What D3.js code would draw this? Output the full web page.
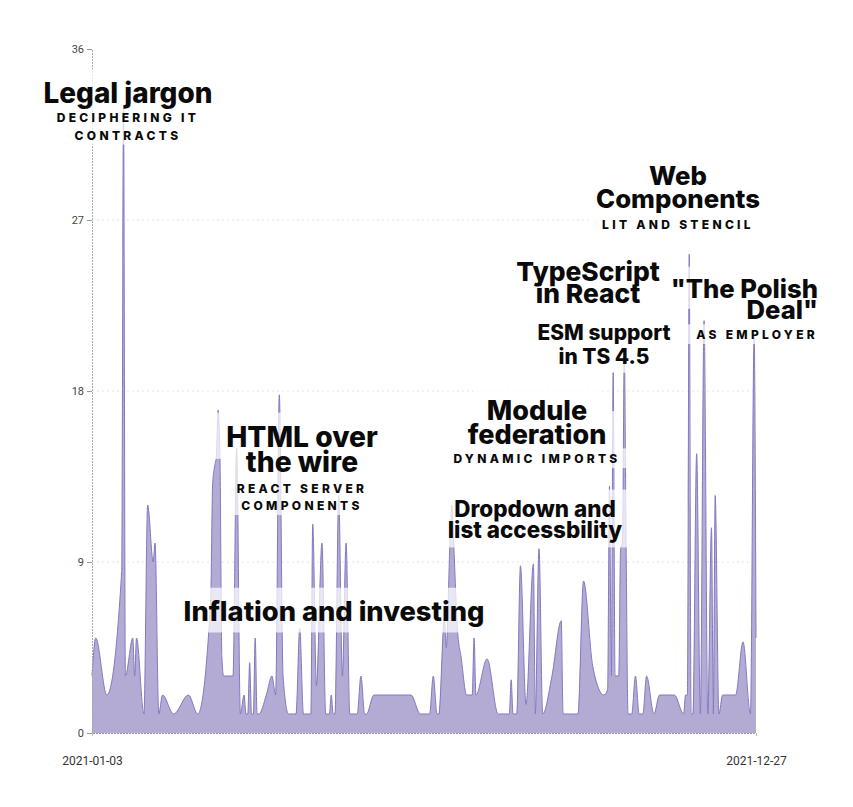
<!DOCTYPE html>
<html>
<head>
<meta charset="utf-8">
<script src="https://cdn.jsdelivr.net/npm/d3@7"></script>
<style>
  html, body { margin: 0; padding: 0; background: #fff; }
  svg { display: block; }
</style>
</head>
<body>
<svg id="chart" width="853" height="807"></svg>
<script>
// ---- data ----
const dates = [
  "2021-01-03","2021-01-05","2021-01-11","2021-01-19","2021-01-20","2021-01-21","2021-01-25","2021-01-26","2021-01-27","2021-01-31",
  "2021-02-02","2021-02-05","2021-02-06","2021-02-08","2021-02-10","2021-02-16","2021-02-24","2021-03-01","2021-03-08","2021-03-09",
  "2021-03-10","2021-03-11","2021-03-12","2021-03-13","2021-03-14","2021-03-15","2021-03-20","2021-03-22","2021-03-24","2021-03-26",
  "2021-03-27","2021-03-28","2021-03-29","2021-03-30","2021-03-31","2021-04-01","2021-04-02","2021-04-03","2021-04-07","2021-04-10",
  "2021-04-12","2021-04-14","2021-04-16","2021-04-19","2021-04-23","2021-04-25","2021-04-27","2021-05-01","2021-05-02","2021-05-04",
  "2021-05-07","2021-05-09","2021-05-11","2021-05-12","2021-05-13","2021-05-14","2021-05-16","2021-05-18","2021-05-20","2021-05-22",
  "2021-05-26","2021-05-28","2021-05-30","2021-05-31","2021-06-04","2021-06-24","2021-06-29","2021-07-04","2021-07-06","2021-07-08",
  "2021-07-09","2021-07-12","2021-07-13","2021-07-15","2021-07-16","2021-07-17","2021-07-19","2021-07-21","2021-07-24","2021-07-27",
  "2021-07-28","2021-07-29","2021-08-04","2021-08-10","2021-08-16","2021-08-17","2021-08-18","2021-08-20","2021-08-22","2021-08-25",
  "2021-08-29","2021-08-30","2021-09-01","2021-09-03","2021-09-08","2021-09-13","2021-09-14","2021-09-22","2021-09-25","2021-09-30",
  "2021-10-06","2021-10-08","2021-10-09","2021-10-10","2021-10-11","2021-10-12","2021-10-14","2021-10-15","2021-10-16","2021-10-17",
  "2021-10-18","2021-10-19","2021-10-21","2021-10-23","2021-10-25","2021-10-27","2021-10-29","2021-11-02","2021-11-05","2021-11-13",
  "2021-11-18","2021-11-19","2021-11-20","2021-11-21","2021-11-22","2021-11-23","2021-11-25","2021-11-27","2021-11-29","2021-12-01",
  "2021-12-03","2021-12-04","2021-12-05","2021-12-07","2021-12-09","2021-12-16","2021-12-20","2021-12-24","2021-12-26","2021-12-27"
];
const counts = [
  3,5,2,8.5,33,3,5,3,5,1,
  12,9,10,1,2,1,2,1,7,13,
  14,14.5,17,14.5,4,3,3,15,1,2,
  1,1,3.7,1,1,5,1,1,2,3,
  2,17.8,3,1,1,5.5,1,1,11,2.5,
  10,1,1,2,1,1,12.5,3,10,1,
  1,3,1,1,2,2,1,1,3,1,
  1,6,4.5,10,12,10,5.5,4,2,2,
  5,2,3.9,1,1,2.8,1,1,8.8,1.5,
  8.9,1,9.7,1,3,5.9,1,1,8,3.5,
  2,2.3,13,3,19,3,3,9.7,10,20,
  9.5,1,1,3,1,1,3,1,2,2,
  1,2,2,25.2,1,1,14.7,1,21.7,1,
  10.8,1,12.5,1,2,2,4.8,1,20.9,5
];
const yTicks = [0, 9, 18, 27, 36];
const xTickLabels = ["2021-01-03", "2021-12-27"];

// annotation texts; w = width the line takes in the reference, y = baseline
const annotations = [
  { x: 128, anchor: "middle", lines: [
    { t: "Legal jargon", k: "title", y: 103, w: 169 },
    { t: "DECIPHERING IT", k: "sub", y: 121.5 },
    { t: "CONTRACTS", k: "sub", y: 139.5 } ] },
  { x: 302, anchor: "middle", lines: [
    { t: "HTML over", k: "title", y: 447, w: 154 },
    { t: "the wire", k: "title", y: 472, w: 110 },
    { t: "REACT SERVER", k: "sub", y: 492.5 },
    { t: "COMPONENTS", k: "sub", y: 510 } ] },
  { x: 334, anchor: "middle", lines: [
    { t: "Inflation and investing", k: "title", y: 621, w: 301 } ] },
  { x: 537, anchor: "middle", lines: [
    { t: "Module", k: "title", y: 420, w: 101 },
    { t: "federation", k: "title", y: 444, w: 138 },
    { t: "DYNAMIC IMPORTS", k: "sub", y: 463 } ] },
  { x: 535, anchor: "middle", lines: [
    { t: "Dropdown and", k: "small", y: 517, w: 161 },
    { t: "list accessbility", k: "small", y: 538, w: 175 } ] },
  { x: 588, anchor: "middle", lines: [
    { t: "TypeScript", k: "title", y: 281, w: 145 },
    { t: "in React", k: "title", y: 303, w: 103 } ] },
  { x: 604, anchor: "middle", lines: [
    { t: "ESM support", k: "small", y: 340, w: 135 },
    { t: "in TS 4.5", k: "small", y: 364, w: 89 } ] },
  { x: 678, anchor: "middle", lines: [
    { t: "Web", k: "title", y: 185, w: 58 },
    { t: "Components", k: "title", y: 208, w: 164 },
    { t: "LIT AND STENCIL", k: "sub", y: 229 } ] },
  { x: 818, anchor: "end", lines: [
    { t: "\"The Polish", k: "title", y: 298, w: 135 },
    { t: "Deal\"", k: "title", y: 319, w: 84 },
    { t: "AS EMPLOYER", k: "sub", y: 339 } ] }
];

// ---- layout ----
const svg = d3.select("#chart");
const margin = { left: 92, right: 97, top: 49, bottom: 74 };
const W = 853, H = 807;
const parse = d3.utcParse("%Y-%m-%d");
const data = dates.map((d, i) => ({ date: parse(d), value: counts[i] }));

const x = d3.scaleUtc()
  .domain([parse(xTickLabels[0]), parse(xTickLabels[1])])
  .range([margin.left, W - margin.right]);
const y = d3.scaleLinear()
  .domain([0, 36])
  .range([H - margin.bottom, margin.top]);

// gridlines
svg.append("g")
  .selectAll("line")
  .data(yTicks.filter(t => t > 0 && t < 36))
  .join("line")
  .attr("x1", margin.left).attr("x2", W - margin.right)
  .attr("y1", d => y(d)).attr("y2", d => y(d))
  .attr("stroke", "#e4e4e4").attr("stroke-dasharray", "2,3");

// area
const area = d3.area()
  .x(d => x(d.date)).y0(y(0)).y1(d => y(d.value))
  .curve(d3.curveMonotoneX);
const line = d3.line()
  .x(d => x(d.date)).y(d => y(d.value))
  .curve(d3.curveMonotoneX);
svg.append("path").datum(data)
  .attr("d", area).attr("fill", "#b3abd4");
svg.append("path").datum(data)
  .attr("d", line).attr("fill", "none")
  .attr("stroke", "#8479c0").attr("stroke-width", 1);

// y axis
const yAxis = svg.append("g")
  .attr("transform", `translate(${margin.left},0)`)
  .call(d3.axisLeft(y).tickValues(yTicks).tickSize(5).tickPadding(3));
yAxis.select(".domain").attr("stroke", "#aaa").attr("stroke-dasharray", "2,1");
yAxis.selectAll(".tick line").attr("stroke", "#999");
yAxis.selectAll(".tick text").attr("fill", "#444")
  .style("font-family", "Roboto, 'Liberation Sans', sans-serif").style("font-size", "11px");

// x axis
const xAxis = svg.append("g")
  .attr("transform", `translate(0,${y(0)})`)
  .call(d3.axisBottom(x).tickValues(xTickLabels.map(parse)).tickFormat(d3.utcFormat("%Y-%m-%d")).tickSize(3).tickPadding(20));
xAxis.select(".domain").attr("stroke", "#999").attr("stroke-dasharray", "2,1");
xAxis.selectAll(".tick line").attr("stroke", "#bbb");
xAxis.selectAll(".tick text").attr("fill", "#333")
  .style("font-family", "Roboto, 'Liberation Sans', sans-serif").style("font-size", "12px");

// annotations
const styles = {
  title: { size: 25, ls: 0 },
  small: { size: 21, ls: 0 },
  sub:   { size: 12, ls: 3.3 }
};
const padX = 12;
const boxLayer = svg.append("g").attr("opacity", 0.72);
const textLayer = svg.append("g");
annotations.forEach(a => {
  const nodes = a.lines.map(l => {
    const s = styles[l.k];
    const t = textLayer.append("text")
      .attr("x", a.x).attr("y", l.y)
      .attr("text-anchor", a.anchor)
      .style("font-family", "Inter, 'Open Sans', sans-serif")
      .style("font-weight", 800)
      .style("font-size", s.size + "px")
      .style("letter-spacing", s.ls + "px")
      .attr("fill", "#0a0a0a")
      .text(l.t);
    return { l, t, size: s.size };
  });
  // scale the heading lines of one annotation together to the reference width
  const heads = nodes.filter(n => n.l.w);
  if (heads.length) {
    const f = d3.sum(heads, n => n.l.w) / d3.sum(heads, n => n.t.node().getComputedTextLength());
    heads.forEach(n => { n.size = n.size * f; n.t.style("font-size", n.size + "px"); });
  }
  nodes.forEach(n => {
    const b = n.t.node().getBBox();
    const top = n.l.y - 1.22 * n.size, bot = n.l.y + 0.42 * n.size;
    boxLayer.append("rect")
      .attr("x", b.x - padX).attr("y", top)
      .attr("width", b.width + 2 * padX).attr("height", bot - top)
      .attr("fill", "#fff");
  });
});
</script>
</body>
</html>
